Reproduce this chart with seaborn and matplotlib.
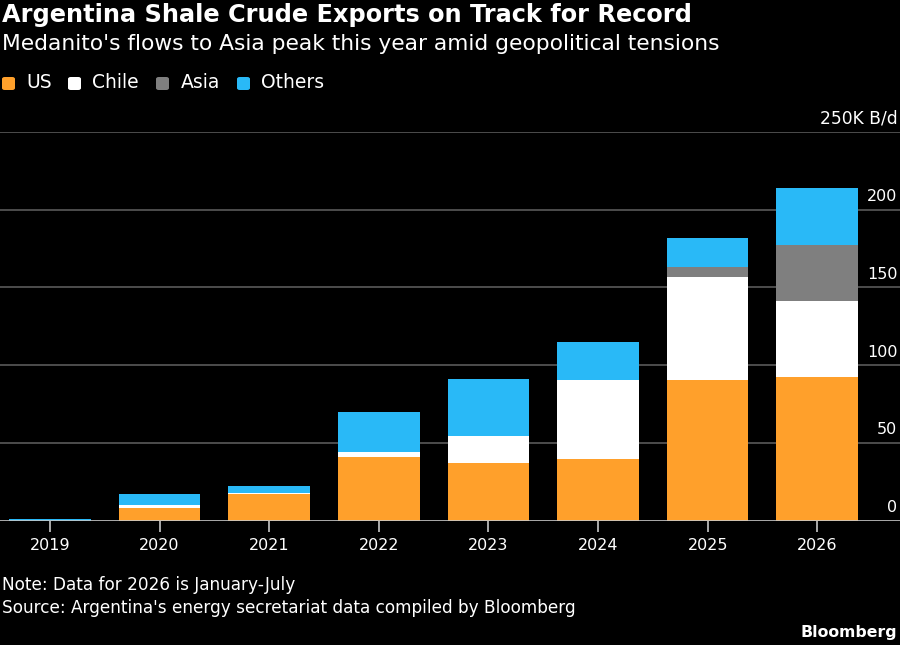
import pandas as pd
import matplotlib.pyplot as plt
import matplotlib.transforms as mtransforms
from matplotlib.patches import FancyBboxPatch
import seaborn as sns

# values in thousand barrels per day
years = ['2019', '2020', '2021', '2022', '2023', '2024', '2025', '2026']
us = [0, 8.5, 17.3, 41.0, 37.4, 39.9, 90.5, 92.2]
chile = [0, 2.0, 0.9, 3.6, 17.5, 50.5, 65.9, 49.2]
asia = [0, 0, 0, 0, 0, 0, 6.8, 35.6]
others = [1.0, 7.0, 4.3, 25.7, 36.1, 24.4, 18.6, 37.0]
y_ticks = [0, 50, 100, 150, 200]

series_names = ['US', 'Chile', 'Asia', 'Others']
colors = ['#FFA02B', '#FFFFFF', '#7F7F7F', '#29B9F7']

df = pd.DataFrame({'year': years, 'US': us, 'Chile': chile, 'Asia': asia, 'Others': others})
# cumulative sums so each layer can be drawn over the one before
cum = df[series_names].cumsum(axis=1)
cum['year'] = df['year']

sns.set_theme(style='dark')
plt.rcParams['font.family'] = ['DejaVu Sans']

fig = plt.figure(figsize=(9, 6.45), dpi=100, facecolor='black')
ax = fig.add_axes([0, 0.1922, 1, 0.6036])
ax.set_facecolor('black')

# draw stacked bars back to front
for name, col in reversed(list(zip(series_names, colors))):
    sns.barplot(data=cum, x='year', y=name, color=col, saturation=1,
                width=0.745, linewidth=0, ax=ax, zorder=3)

ax.set_xlim(-0.456, 7.755)
ax.set_ylim(0, 250)
ax.set_xlabel('')
ax.set_ylabel('')
for s in ax.spines.values():
    s.set_visible(False)

# horizontal gridlines
for v in y_ticks[1:] + [250]:
    ax.axhline(v, color='#5a5a5a', lw=1.2, zorder=1)
ax.axhline(0, color='#c8c8c8', lw=1.2, zorder=4)

ax.set_yticks([])
ax.xaxis.set_ticks_position('bottom')
ax.tick_params(axis='x', bottom=True, colors='#c8c8c8', length=8, width=1.2,
               direction='out', labelsize=11.5, labelcolor='white', pad=4)

trans = mtransforms.blended_transform_factory(ax.transAxes, ax.transData)
for v in y_ticks:
    ax.text(0.997, v + 5.6, str(v), transform=trans, ha='right', va='baseline',
            color='white', fontsize=11.5)
ax.text(0.997, 255.5, '250K B/d', transform=trans, ha='right', va='baseline',
        color='white', fontsize=12.3)

# title and subtitle
fig.text(0.002, 0.977, 'Argentina Shale Crude Exports on Track for Record',
         color='white', fontsize=17.3, fontweight='bold', ha='left', va='center')
fig.text(0.002, 0.932, "Medanito's flows to Asia peak this year amid geopolitical tensions",
         color='white', fontsize=15.7, ha='left', va='center')

# legend
sq_x = [2, 68, 156, 237]
txt_x = [26, 92, 181, 261]
for sx, tx, name, col in zip(sq_x, txt_x, series_names, colors):
    fig.patches.append(FancyBboxPatch((sx / 900, (645 - 90) / 645), 13 / 900, 13 / 645,
                                      boxstyle='round,pad=0,rounding_size=0.003',
                                      transform=fig.transFigure, facecolor=col,
                                      edgecolor='none'))
    fig.text(tx / 900, (645 - 83) / 645, name, color='white', fontsize=13.5,
             ha='left', va='center')

# footnotes
fig.text(0.002, (645 - 585) / 645, 'Note: Data for 2026 is January-July',
         color='white', fontsize=12.2, ha='left', va='center')
fig.text(0.002, (645 - 608) / 645,
         "Source: Argentina's energy secretariat data compiled by Bloomberg",
         color='white', fontsize=12.2, ha='left', va='center')
fig.text(0.997, (645 - 633) / 645, 'Bloomberg', color='white', fontsize=11.3,
         fontweight='bold', ha='right', va='center')

fig.savefig('out.png', dpi=100, facecolor='black')
